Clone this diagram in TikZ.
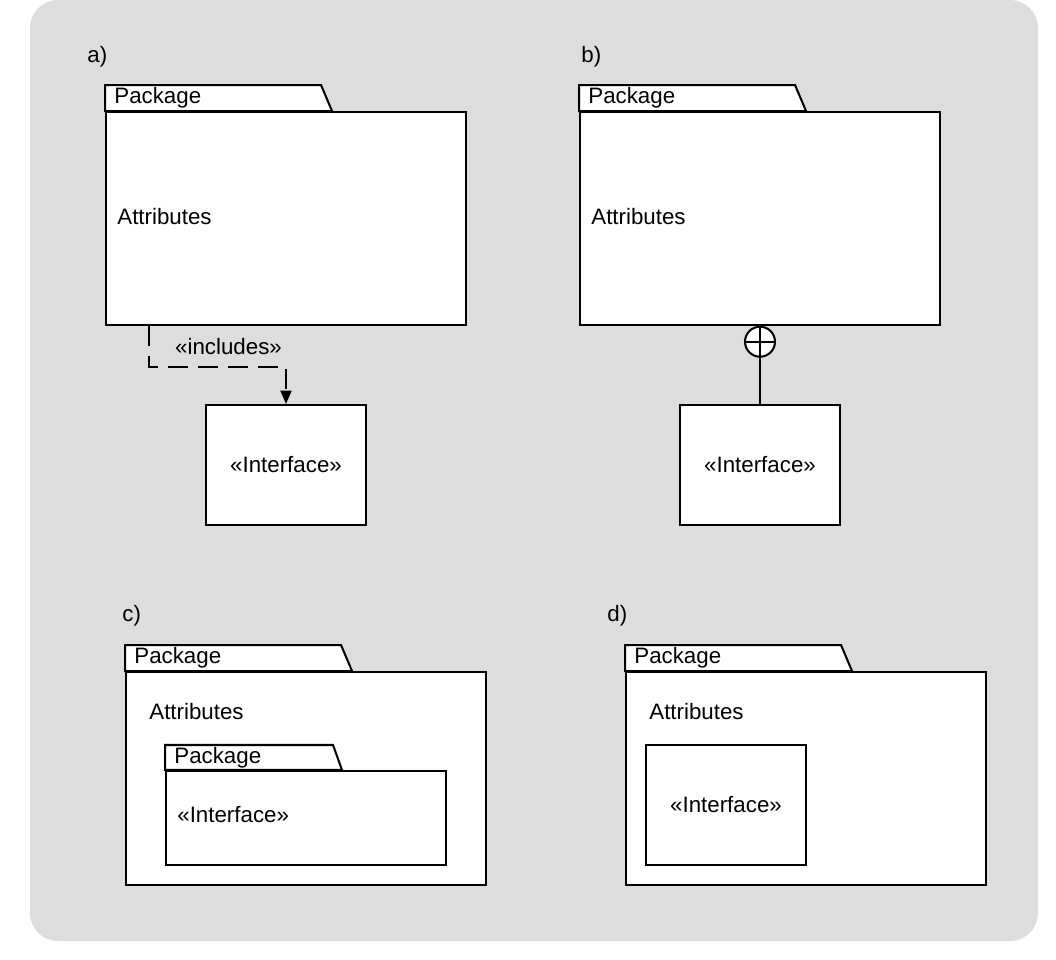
\documentclass[tikz,border=0pt]{standalone}
\usepackage{fontspec}
\setmainfont{Liberation Sans}
\usetikzlibrary{calc, arrows.meta, positioning}
\usepackage{xcolor}
\definecolor{bggray}{HTML}{DDDDDD}

\begin{document}
\begin{tikzpicture}[x=0.02cm, y=-0.02cm, >=latex]
			\tikzstyle{pkg} = [draw=black, line width=1.15pt, fill=white, rectangle, minimum width=7.2cm, minimum height=4.26cm, inner sep=0pt]
			\tikzstyle{inpkg} = [pkg, minimum width=5.6cm, minimum height=1.88cm]
			\tikzstyle{iface} = [pkg, minimum width=3.2cm, minimum height=2.4cm, font=\fontsize{12.7}{15}\selectfont]
			\tikzstyle{tab} = [draw=black, line width=1.15pt, fill=white]
			\tikzstyle{txt} = [inner sep=0pt, font=\fontsize{12.7}{15}\selectfont]
			\tikzstyle{oplus} = [draw=black, line width=1.15pt, fill=white, circle, minimum size=0.6cm, inner sep=0pt]
			\tikzstyle{line} = [line width=1.15pt]
			\tikzstyle{dep} = [line width=1.15pt, dash pattern=on 0.4cm off 0.2cm, -{Triangle[length=0.27cm, width=0.22cm]}]
			
			\useasboundingbox (0,0) rectangle (1056,960);
			\fill[bggray, rounded corners=0.56cm] (30,0) rectangle (1038,941);
			
			% a)
			\node[txt, anchor=base west] at (87,62) (la) {a)};
			\node[pkg] at (286,218.5) (p1) {};
			\draw[tab] (p1.north west) -- ++(0,-26) -- ++(216,0) -- ++(11,26) -- cycle;
			\node[txt, anchor=base west] at ($(p1.north west)+(9,-7.5)$) (n1) {Package};
			\node[txt, anchor=base west] at ($(p1.west)+(12,5.5)$) (t1) {Attributes};
			\node[iface] at (286,465) (i1) {\raisebox{1.2pt}{«Interface»}};
			\draw[dep] ($(p1.south west)+(44,0)$) -- ++(0,41) -| (i1.north);
			\node[txt, anchor=base] at (228.5,354) (e1) {«includes»};
			
			% b)
			\node[txt, anchor=base west] at (581,62) (lb) {b)};
			\node[pkg] at (760,218.5) (p2) {};
			\draw[tab] (p2.north west) -- ++(0,-26) -- ++(216,0) -- ++(11,26) -- cycle;
			\node[txt, anchor=base west] at ($(p2.north west)+(9,-7.5)$) (n2) {Package};
			\node[txt, anchor=base west] at ($(p2.west)+(12,5.5)$) (t2) {Attributes};
			\node[iface] at (760,465) (i2) {\raisebox{1.2pt}{«Interface»}};
			\node[oplus] at (760,341.7) (c2) {};
			\draw[line] (c2.north) -- (c2.south);
			\draw[line] (c2.west) -- (c2.east);
			\draw[line] (c2.south) -- (i2.north);
			
			% c)
			\node[txt, anchor=base west] at (122,621) (lc) {c)};
			\node[pkg] at (306,778.5) (p3) {};
			\draw[tab] (p3.north west) -- ++(0,-26) -- ++(216,0) -- ++(11,26) -- cycle;
			\node[txt, anchor=base west] at ($(p3.north west)+(9,-7.5)$) (n3) {Package};
			\node[txt, anchor=base west] at ($(p3.north west)+(24,48.5)$) (t3) {Attributes};
			\node[inpkg] at (306,818) (p4) {};
			\draw[tab] (p4.north west) -- ++(0,-25) -- ++(168,0) -- ++(9,25) -- cycle;
			\node[txt, anchor=base west] at ($(p4.north west)+(9,-6.5)$) (n4) {Package};
			\node[txt, anchor=base west] at ($(p4.north west)+(12,52.5)$) (t4) {«Interface»};
			
			% d)
			\node[txt, anchor=base west] at (607,621) (ld) {d)};
			\node[pkg] at (806,778.5) (p5) {};
			\draw[tab] (p5.north west) -- ++(0,-26) -- ++(216,0) -- ++(11,26) -- cycle;
			\node[txt, anchor=base west] at ($(p5.north west)+(9,-7.5)$) (n5) {Package};
			\node[txt, anchor=base west] at ($(p5.north west)+(24,48.5)$) (t5) {Attributes};
			\node[iface] at (726,805) (i5) {\raisebox{1.2pt}{«Interface»}};
		\end{tikzpicture}
\end{document}
